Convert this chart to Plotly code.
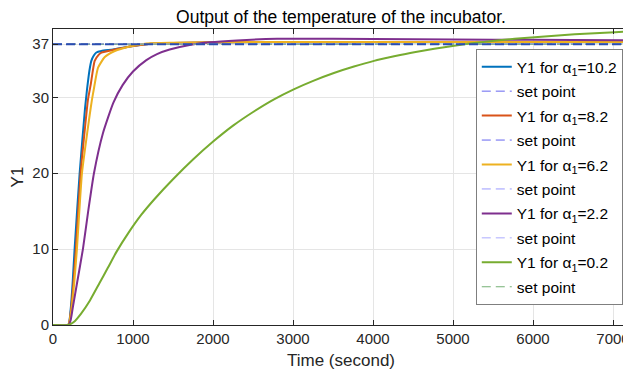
import plotly.graph_objects as go

# ---- data ----
t_a10 = [0, 190, 220, 245, 270, 333, 400, 425, 455, 479, 510, 542, 605, 751, 960, 1170, 1500, 2500, 4000, 7200]
y_a10 = [0, 0, 2.0, 5.5, 10.0, 20.0, 28.5, 31.0, 33.5, 34.8, 35.5, 35.9, 36.1, 36.3, 36.7, 37.0, 37.15, 37.25, 37.25, 37.25]

t_a8 = [0, 190, 225, 255, 286, 345, 400, 437, 472, 521, 570, 605, 772, 960, 1170, 1500, 2500, 7200]
y_a8 = [0, 0, 2.0, 5.5, 10.0, 20.0, 26.0, 29.7, 31.7, 34.8, 35.6, 35.9, 36.3, 36.7, 37.0, 37.15, 37.3, 37.3]

t_a6 = [0, 190, 230, 265, 299, 362, 430, 459, 487, 509, 563, 647, 772, 960, 1170, 1500, 2500, 7200]
y_a6 = [0, 0, 2.0, 5.5, 10.0, 20.0, 25.5, 27.7, 29.7, 31.0, 33.9, 35.3, 36.1, 36.7, 37.1, 37.2, 37.3, 37.3]

t_a2 = [0, 190, 220, 249, 300, 374, 440, 512, 625, 755, 870, 1000, 1167, 1300, 1458, 1708, 1958, 2300, 2800, 3500, 4500, 5500, 6500, 7200]
y_a2 = [0, 0, 0.6, 2.4, 5.5, 10.0, 15.0, 20.0, 25.3, 29.3, 31.6, 33.4, 34.9, 35.7, 36.3, 36.9, 37.25, 37.5, 37.7, 37.7, 37.65, 37.6, 37.55, 37.5]

t_a0 = [0, 188, 260, 349, 462, 580, 684, 797, 947, 1102, 1270, 1500, 1750, 2005, 2255, 2506, 2757, 3009, 3260, 3511, 3762, 4013, 4264, 4515, 4766, 5016, 5267, 5518, 5769, 6020, 6271, 6522, 6773, 7024, 7200]
y_a0 = [0, 0, 0.4, 1.48, 3.24, 5.5, 7.5, 9.7, 12.2, 14.5, 16.6, 19.2, 21.8, 24.2, 26.3, 28.1, 29.7, 31.05, 32.2, 33.2, 34.05, 34.8, 35.4, 35.95, 36.4, 36.8, 37.15, 37.45, 37.7, 37.92, 38.12, 38.3, 38.45, 38.58, 38.66]

t_sp = [0, 7200]
y_sp = [37, 37]

alpha_vals = ["10.2", "8.2", "6.2", "2.2", "0.2"]
curve_t = [t_a10, t_a8, t_a6, t_a2, t_a0]
curve_y = [y_a10, y_a8, y_a6, y_a2, y_a0]
curve_colors = ["#0072BD", "#D95319", "#EDB120", "#7E2F8E", "#77AC30"]
sp_colors = ["#6565F0", "#6565F0", "#9A9AFF", "#ABABFF", "#74B074"]

x_ticks = [0, 1000, 2000, 3000, 4000, 5000, 6000, 7000]
y_ticks = [0, 10, 20, 30, 37]

FONT = "Liberation Sans, Arial, sans-serif"
fig = go.Figure()
rank = 1
for i in range(5):
    fig.add_trace(go.Scatter(
        x=curve_t[i], y=curve_y[i], mode="lines",
        line=dict(color=curve_colors[i], width=2, shape="spline", smoothing=0.5),
        name=f"Y1 for α<sub>1</sub>=" + alpha_vals[i], legendrank=rank,
        legendgroup=f"g{rank}"))
    rank += 1
    fig.add_trace(go.Scatter(
        x=t_sp, y=y_sp, mode="lines",
        line=dict(color=sp_colors[i], width=1, dash="9px,5px"),
        name="set point", legendrank=rank, legendgroup=f"g{rank}"))
    rank += 1
# visible set-point line on top
fig.add_trace(go.Scatter(x=t_sp, y=y_sp, mode="lines", showlegend=False,
                         line=dict(color="#2B4DB0", width=2, dash="9px,4px")))

axis_common = dict(
    showline=True, linecolor="#262626", linewidth=1, mirror="ticks",
    ticks="inside", ticklen=5, tickcolor="#262626",
    showgrid=True, gridcolor="#E5E5E5", gridwidth=1, zeroline=False,
    tickfont=dict(family=FONT, size=15, color="#262626"),
)
fig.update_xaxes(range=[0, 7200], tickvals=x_ticks, ticktext=[str(v) for v in x_ticks],
                 title=dict(text="Time (second)", font=dict(family=FONT, size=17, color="#262626"), standoff=8),
                 **axis_common)
fig.update_yaxes(range=[0, 39], tickvals=y_ticks, ticktext=[str(v) for v in y_ticks],
                 title=dict(text="Y1", font=dict(family=FONT, size=17, color="#262626"), standoff=8),
                 **axis_common)

# page body has an 8px margin: figure is 623x369 placed at (8,8)
fig.update_layout(
    width=623, height=369,
    margin=dict(l=45, r=2, t=21, b=52),
    paper_bgcolor="white", plot_bgcolor="white",
    title=dict(text="Output of the temperature of the incubator.", x=0.5345, xanchor="center",
               y=0.975, yanchor="middle", font=dict(family=FONT, size=17.5, color="#000000")),
    legend=dict(x=0.734, y=0.932, xanchor="left", yanchor="top",
                bgcolor="white", bordercolor="#7F7F7F", borderwidth=1,
                font=dict(family=FONT, size=15.5, color="#000000"),
                traceorder="grouped", tracegroupgap=1.3, itemwidth=30),
    showlegend=True,
)
fig.write_html("out.html")
